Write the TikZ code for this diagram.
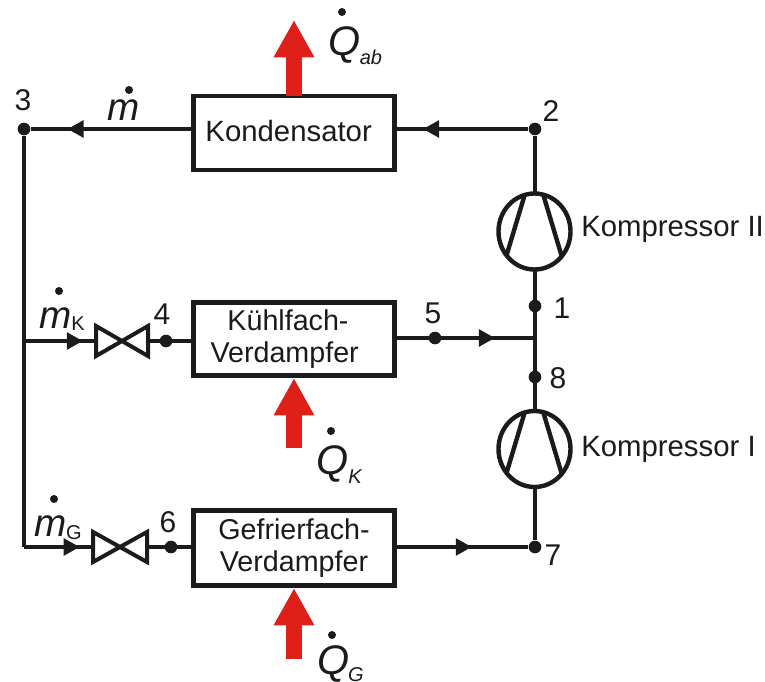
\documentclass[tikz,border=0pt]{standalone}
\usepackage{fontspec}
\setmainfont{Liberation Sans}
\usetikzlibrary{arrows.meta,decorations.markings,calc,shapes.geometric}
\definecolor{heatred}{RGB}{222,32,24}
\definecolor{ink}{RGB}{28,26,26}
\tikzset{
  x=0.75pt,y=-0.75pt,
  pipe/.style={draw=ink,line width=2.7pt},
  box/.style={draw=ink,line width=3.6pt,fill=white,minimum width=150.5pt,minimum height=#1,inner sep=0pt,align=center,font=\fontsize{21.5pt}{24.5pt}\selectfont,text=ink},
  box/.default=56pt,
  junction/.style={circle,fill=ink,inner sep=0pt,minimum size=9.5pt},
  comp/.style={ellipse,draw=ink,line width=3.3pt,fill=white,minimum width=54pt,minimum height=57pt,inner sep=0pt},
  compline/.style={draw=ink,line width=3.3pt},
  num/.style={font=\fontsize{22.5pt}{24pt}\selectfont,text=ink,inner sep=0pt},
  lbl/.style={font=\fontsize{22pt}{24pt}\selectfont,text=ink,inner sep=0pt,anchor=west},
  heat/.style={draw=heatred,line width=12pt,-{Triangle[width=28.5pt,length=28pt,fill=heatred]}},
  flowmark/.style={postaction={decorate,decoration={markings,mark=at position #1 with {\arrow[ink]{Triangle[width=12.5pt,length=12pt]}}}}},
  sym/.style={font=\fontsize{29pt}{30pt}\selectfont\itshape,text=ink,inner sep=0pt},
  qsym/.style={font=\fontsize{31pt}{32pt}\selectfont\itshape,text=ink,inner sep=0pt},
  subs/.style={font=\fontsize{15pt}{16pt}\selectfont,text=ink,inner sep=0pt},
  subi/.style={font=\fontsize{15pt}{16pt}\selectfont\itshape,text=ink,inner sep=0pt},
  dotmark/.style={circle,fill=ink,inner sep=0pt,minimum size=6pt},
  valve/.style={draw=ink,line width=3pt,line join=miter,fill=white},
}
\begin{document}
\begin{tikzpicture}
\useasboundingbox (0,0) rectangle (765,682);
% boxes
\node[box=55.5pt,font=\fontsize{22pt}{24.5pt}\selectfont] (kond) at (294,133) {\raisebox{3pt}{Kondensator}\hspace*{8pt}};
\node[box=55pt] (kuehl) at (294,339) {Kühlfach-\hspace*{9pt}\\Verdampfer\hspace*{14pt}};
\node[box=56.4pt] (gefr) at (294,548) {Gefrierfach-\\Verdampfer};
% points
\node[junction] (p3) at (24,129) {};
\node[junction] (p2) at (535,129) {};
\node[junction] (p1) at (535,306) {};
\node[junction] (p8) at (535,377) {};
\node[junction] (p7) at (535,547) {};
\node[junction] (p5) at (435,338) {};
\node[junction] (p4) at (166,341) {};
\node[junction] (p6) at (171,547) {};
\coordinate (jk) at (24,341);
\coordinate (jg) at (24,547);
\coordinate (jm) at (535,338);
% valves
\coordinate (v1) at (122,341);
\coordinate (v2) at (120,547);
% pipes
\draw[pipe,flowmark=0.77] (kond.west |- p3) -- (p3);
\draw[pipe,flowmark=0.8] (p2) -- (kond.east |- p2);
\draw[pipe] (p3) -- (jg);
\draw[pipe,flowmark=0.6] (jk) -- (v1);
\draw[pipe,flowmark=0.58] (jg) -- (v2);
\draw[pipe] (v1) -- (kuehl.west |- v1);
\draw[pipe] (v2) -- (gefr.west |- v2);
\draw[pipe,flowmark=0.71] (kuehl.east |- jm) -- (jm);
\draw[pipe,flowmark=0.57] (gefr.east |- p7) -- (p7);
\draw[pipe] (p2) -- (p7);
% compressors
\foreach \n/\c in {k2/231.5,k1/449}{
  \node[comp] (\n) at (534.5,\c) {};
  \draw[compline] ($(\n)+(-28,24)$) -- ($(\n)+(-10,-36)$);
  \draw[compline] ($(\n)+(27,24)$) -- ($(\n)+(9,-36)$);
}
% valve symbols
\draw[valve] (v1) -- ++(-26,-15) -- ++(0,30) -- cycle;
\draw[valve] (v1) -- ++(26,-15) -- ++(0,30) -- cycle;
\draw[valve] (v2) -- ++(-27,-15) -- ++(0,30) -- cycle;
\draw[valve] (v2) -- ++(27,-15) -- ++(0,30) -- cycle;
% heat arrows
\coordinate (qa1) at (294,96);
\coordinate (qa2) at (294,20);
\coordinate (qk1) at (294,448);
\coordinate (qg1) at (294,659);
\draw[heat] (qa1) -- (qa2);
\draw[heat] (qk1) -- (kuehl.south -| qk1);
\draw[heat] (qg1) -- (gefr.south -| qg1);
% numbers
\node[num] (n3) at (23,100) {3};
\node[num] (n2) at (551,111) {2};
\node[num] (n1) at (562,308) {1};
\node[num] (n8) at (558,378) {8};
\node[num] (n7) at (553,555) {7};
\node[num] (n5) at (433,313) {5};
\node[num] (n4) at (162,314) {4};
\node[num] (n6) at (168,522) {6};
% component labels
\node[lbl] (l2) at (581,229) {Kompressor II};
\node[lbl] (l1) at (581,449) {Kompressor I};
% mass flows
\node[sym] (m) at (124,110) {m};
\node[dotmark] (md) at (129,90) {};
\node[sym] (mk) at (56,318) {m};
\node[dotmark] (mkd) at (59,291) {};
\node[subs] (mks) at (78,324) {K};
\node[sym] (mg) at (51,526) {m};
\node[dotmark] (mgd) at (54,499) {};
\node[subs] (mgs) at (74,533) {G};
% heat flows
\node[qsym] (qab) at (345,45) {Q};
\node[dotmark] (qabd) at (342,12) {};
\node[subi] (qabs) at (371,57) {ab};
\node[qsym] (qk) at (333,464) {Q};
\node[dotmark] (qkd) at (331,431) {};
\node[subi] (qks) at (355,477) {K};
\node[qsym] (qg) at (334,664) {Q};
\node[dotmark] (qgd) at (332,635) {};
\node[subi] (qgs) at (356,675) {G};
\end{tikzpicture}
\end{document}
